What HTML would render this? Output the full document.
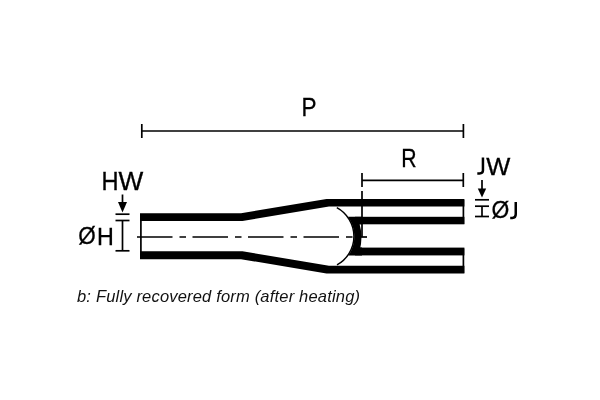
<!DOCTYPE html>
<html><head><meta charset="utf-8">
<style>
html,body{margin:0;padding:0;background:#fff;width:600px;height:400px;overflow:hidden}
svg{display:block;will-change:transform}
text{font-family:"Liberation Sans",sans-serif}
</style></head>
<body>
<svg width="600" height="400" viewBox="0 0 600 400">
<rect width="600" height="400" fill="#fff"/>
<!-- P dimension -->
<g stroke="#000" stroke-width="1.7" fill="none">
<line x1="141" y1="131" x2="463.5" y2="131"/>
<line x1="141.8" y1="124" x2="141.8" y2="138"/>
<line x1="463.4" y1="124" x2="463.4" y2="138"/>
<!-- R dimension -->
<line x1="362" y1="180.4" x2="463.4" y2="180.4"/>
<line x1="362" y1="173" x2="362" y2="187"/>
<line x1="362" y1="191" x2="362" y2="237"/>
<line x1="463.3" y1="173" x2="463.3" y2="187"/>
<!-- HW / OH markers -->
<line x1="122.5" y1="194.5" x2="122.5" y2="203"/>
<line x1="115.5" y1="214.2" x2="129.5" y2="214.2"/>
<line x1="115.5" y1="220.5" x2="129.5" y2="220.5"/>
<line x1="122.5" y1="220.5" x2="122.5" y2="250.8"/>
<line x1="115.5" y1="250.8" x2="129.5" y2="250.8"/>
<!-- JW / OJ markers -->
<line x1="482" y1="180" x2="482" y2="189"/>
<line x1="475" y1="199.8" x2="489" y2="199.8"/>
<line x1="475" y1="206.2" x2="489" y2="206.2"/>
<line x1="482" y1="206.2" x2="482" y2="216.5"/>
<line x1="475" y1="216.5" x2="489" y2="216.5"/>
<!-- left tube closing line -->
<line x1="140.9" y1="214" x2="140.9" y2="258"/>
<!-- right closing lines -->
<line x1="463.4" y1="200" x2="463.4" y2="224"/>
<line x1="463.4" y1="248.5" x2="463.4" y2="273"/>
<!-- centerline -->
<line x1="137" y1="237" x2="353" y2="237" stroke-dasharray="35.5 7 6.5 6.5"/>
<line x1="361" y1="237" x2="367" y2="237"/>
<!-- thin arc -->
<path d="M336.8 207.6 A32.6 32.6 0 0 1 337 264.9" stroke-width="1.5"/>
</g>
<polygon points="118,202 127,202 122.5,212.5" fill="#000"/>
<polygon points="477.8,188.5 486.2,188.5 482,197.6" fill="#000"/>
<!-- body -->
<g fill="#000">
<polygon points="140,213.2 241,213.2 326.5,199 464.4,199 464.4,206.6 329,206.6 242.5,220.9 140,220.9"/>
<polygon points="140,259.2 241,259.2 326.5,273.4 464.4,273.4 464.4,265.8 329,265.8 242.5,251.3 140,251.3"/>
<rect x="355" y="216.8" width="109.4" height="7.5"/>
<rect x="355" y="247.6" width="109.4" height="7.8"/>
<path d="M347.85 216.80 L348.96 218.41 L349.93 220.02 L350.79 221.62 L351.54 223.23 L352.19 224.84 L352.75 226.45 L353.21 228.06 L353.59 229.67 L353.89 231.28 L354.10 232.88 L354.24 234.49 L354.30 236.10 L354.28 237.71 L354.18 239.32 L354.00 240.93 L353.75 242.53 L353.41 244.14 L352.99 245.75 L352.48 247.36 L351.88 248.97 L351.18 250.58 L350.38 252.18 L349.46 253.79 L348.42 255.40 L362.00 255.40 L362.00 247.60 L360.30 247.60 L361.00 244.00 L361.50 237.00 L360.90 230.00 L359.60 224.30 L362.00 224.30 L362.00 216.80 Z"/>
</g>
<!-- labels -->
<text transform="translate(491.50 218.07) scale(0.935 0.968)" font-size="24.5" stroke="#000" stroke-width="0.3">Ø</text>
<path d="M515.75 201.9 V214.3 Q515.75 217.9 512.3 217.9 H510.2" stroke="#000" stroke-width="2.5" fill="none"/>
<text transform="translate(78.31 244.27) scale(0.918 0.973)" font-size="24.5" stroke="#000" stroke-width="0.3">Ø</text>
<text transform="translate(97.04 244.70) scale(0.950 0.982)" font-size="24.5" stroke="#000" stroke-width="0.3">H</text>
<text transform="translate(301.49 115.80) scale(0.919 1.035)" font-size="24.5" stroke="#000" stroke-width="0.3">P</text>
<text transform="translate(401.28 166.70) scale(0.867 1.047)" font-size="24.5" stroke="#000" stroke-width="0.3">R</text>
<text transform="translate(486.30 174.70) scale(1.041 1.012)" font-size="24.5" stroke="#000" stroke-width="0.3">W</text>
<text transform="translate(101.51 189.70) scale(0.964 1.041)" font-size="24.5" stroke="#000" stroke-width="0.3">H</text>
<text transform="translate(118.50 189.60) scale(1.071 1.041)" font-size="24.5" stroke="#000" stroke-width="0.3">W</text>
<path d="M482.95 157.5 V170.6 Q482.95 173.45 479.6 173.45 H477.3" stroke="#000" stroke-width="2.5" fill="none"/>
<text x="77" y="302" font-size="16.5" font-style="italic" fill="#111" textLength="283" lengthAdjust="spacing">b: Fully recovered form (after heating)</text>
</svg>
</body></html>
